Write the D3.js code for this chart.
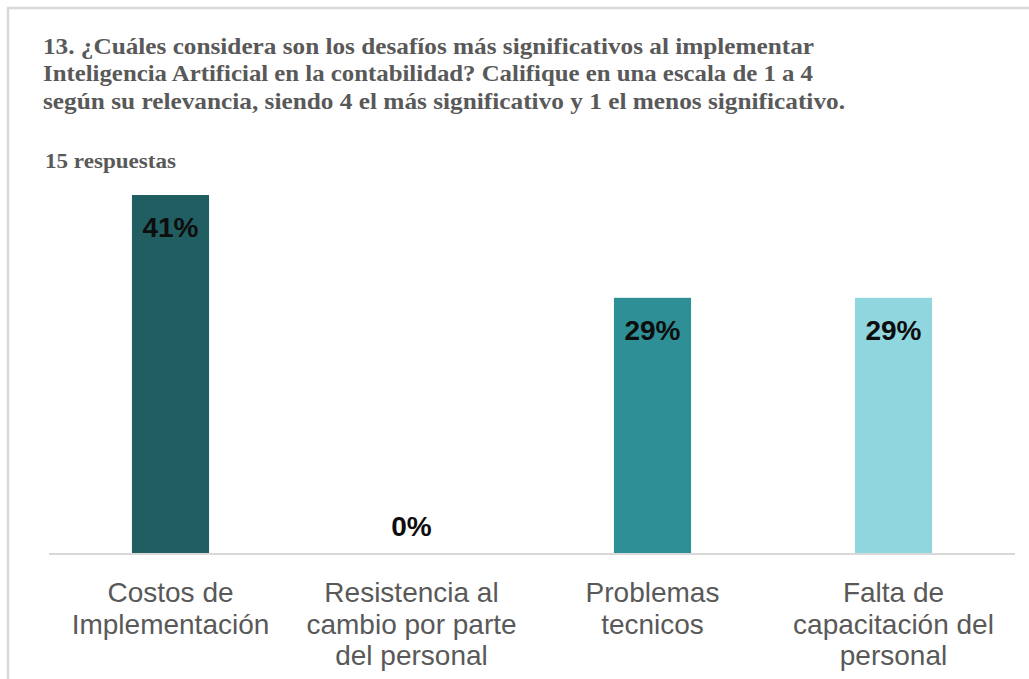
<!DOCTYPE html>
<html>
<head>
<meta charset="utf-8">
<script src="https://cdn.jsdelivr.net/npm/d3@7"></script>
<style>
  body { margin: 0; background: #fff; }
  .title { font-family: "Liberation Serif", "Times New Roman", serif; font-weight: bold; fill: #595959; }
  .cat { font-family: "Liberation Sans", Arial, sans-serif; font-size: 28px; fill: #595959; }
  .val { font-family: "Liberation Sans", Arial, sans-serif; font-size: 28px; font-weight: bold; fill: #0d0d0d; }
</style>
</head>
<body>
<div id="chart"></div>
<script>
const titleLines = [
    "13. ¿Cuáles considera son los desafíos más significativos al implementar",
    "Inteligencia Artificial en la contabilidad? Califique en una escala de 1 a 4",
    "según su relevancia, siendo 4 el más significativo y 1 el menos significativo."
];
const subtitle = "15 respuestas";

const categories = [
    "Costos de Implementación",
    "Resistencia al cambio por parte del personal",
    "Problemas tecnicos",
    "Falta de capacitación del personal"
];
// how each category label wraps
const categoryLines = [
    ["Costos de", "Implementación"],
    ["Resistencia al", "cambio por parte", "del personal"],
    ["Problemas", "tecnicos"],
    ["Falta de", "capacitación del", "personal"]
];
const values = [41.2, 0, 29.4, 29.4];
const valueLabels = ["41%", "0%", "29%", "29%"];
const barColors = ["#215e61", "#2f8f96", "#90d6df"];

function init() {
    const width = 1029, height = 679;
    const baseY = 554;

    const svg = d3.select('#chart')
        .append('svg')
        .attr('width', width)
        .attr('height', height);

    // frame (only top and left edges are visible)
    svg.append('path')
        .attr('d', `M8,${height} L8,8 L${width},8`)
        .attr('fill', 'none')
        .attr('stroke', '#d9d9d9')
        .attr('stroke-width', 2.5);

    // title
    const titleWidths = [771, 770, 802];
    svg.selectAll('.title-line')
        .data(titleLines)
        .join('text')
        .attr('class', 'title title-line')
        .attr('x', 43)
        .attr('y', (d, i) => 54 + i * 27.3)
        .style('font-size', '24px')
        .attr('textLength', (d, i) => titleWidths[i])
        .attr('lengthAdjust', 'spacingAndGlyphs')
        .text(d => d);

    svg.append('text')
        .attr('class', 'title')
        .attr('x', 45)
        .attr('y', 168)
        .style('font-size', '20px')
        .attr('textLength', 131)
        .attr('lengthAdjust', 'spacingAndGlyphs')
        .text(subtitle);

    const xScale = d3.scaleBand()
        .domain(categories)
        .range([50, 1014])
        .paddingInner(0.68)
        .paddingOuter(0.34);

    const yScale = d3.scaleLinear()
        .domain([0, 41.2])
        .range([baseY, 195]);

    // bars
    svg.selectAll('.bar')
        .data(values)
        .join('rect')
        .attr('class', 'bar')
        .attr('x', (d, i) => xScale(categories[i]))
        .attr('y', d => yScale(d))
        .attr('width', xScale.bandwidth())
        .attr('height', d => baseY - yScale(d))
        .style('fill', (d, i) => i == 0 ? barColors[0] : i == 2 ? barColors[1] : barColors[2]);

    // axis line
    svg.append('line')
        .attr('x1', 49)
        .attr('x2', 1015)
        .attr('y1', baseY)
        .attr('y2', baseY)
        .attr('stroke', '#d9d9d9')
        .attr('stroke-width', 2);

    // value labels
    svg.selectAll('.val')
        .data(values)
        .join('text')
        .attr('class', 'val')
        .attr('x', (d, i) => xScale(categories[i]) + xScale.bandwidth() / 2)
        .attr('y', d => d > 0 ? yScale(d) + 42 : baseY - 18)
        .attr('text-anchor', 'middle')
        .text((d, i) => valueLabels[i]);

    // category labels
    const catGroups = svg.selectAll('.cat')
        .data(categories)
        .join('text')
        .attr('class', 'cat')
        .attr('text-anchor', 'middle')
        .attr('transform', d => `translate(${xScale(d) + xScale.bandwidth() / 2}, 602)`);

    catGroups.selectAll('tspan')
        .data((d, i) => categoryLines[i])
        .join('tspan')
        .attr('x', 0)
        .attr('y', (d, i) => i * 31.5)
        .text(d => d);
}

window.addEventListener('load', init);
</script>
</body>
</html>
